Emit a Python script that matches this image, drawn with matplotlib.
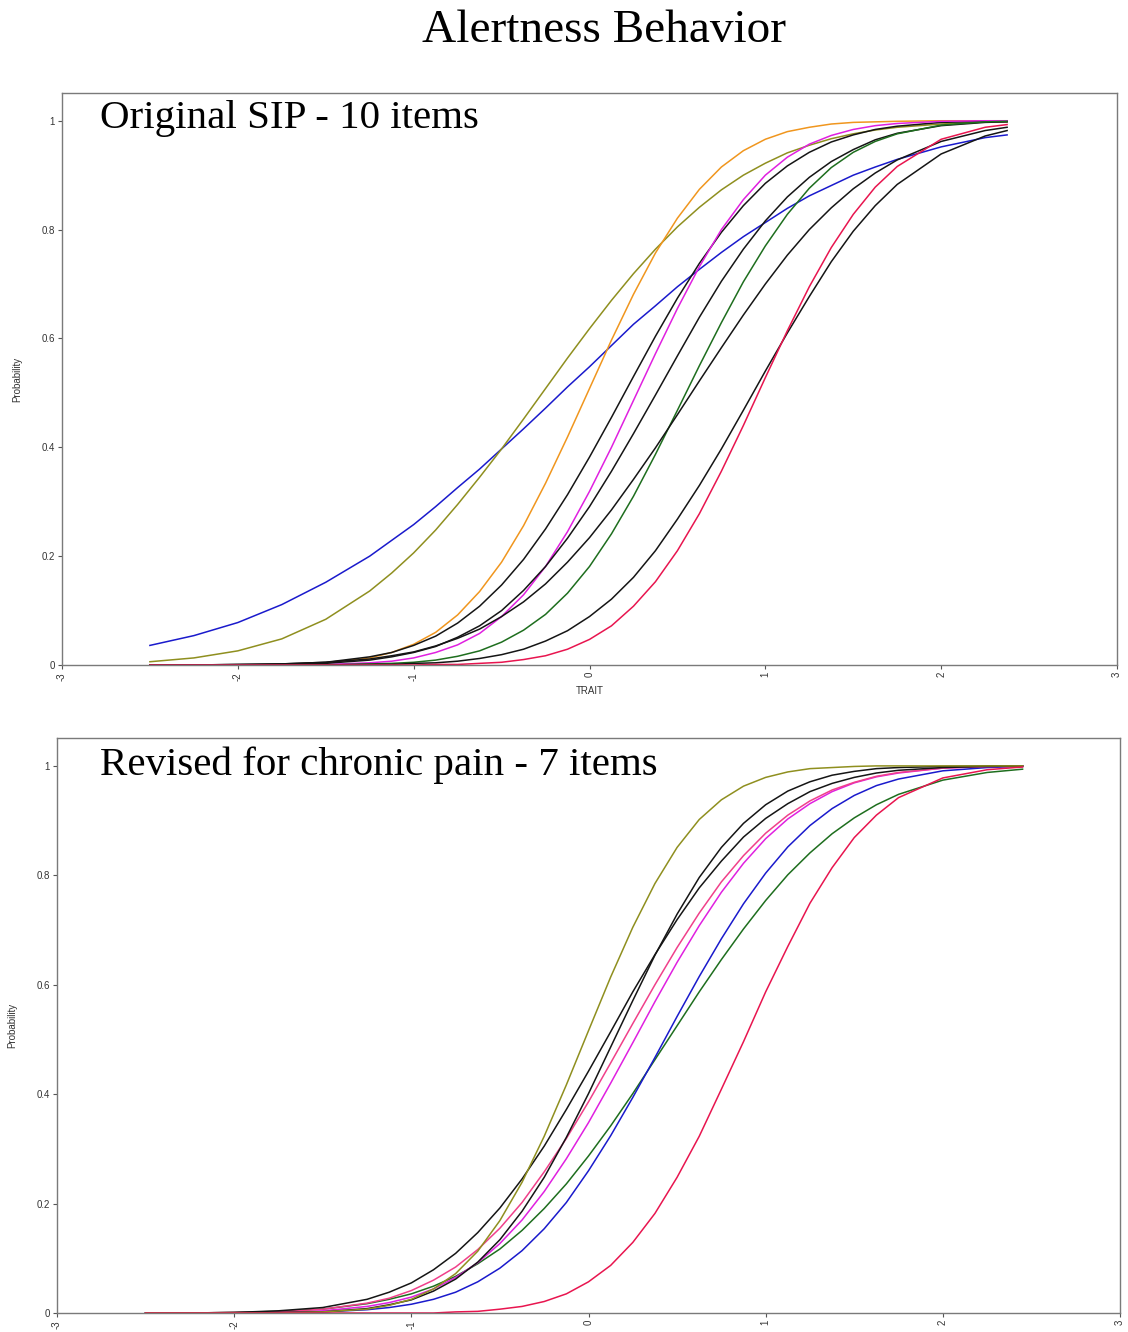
import matplotlib
matplotlib.use("Agg")
import matplotlib.pyplot as plt

# ---------------- data ----------------
title = "Alertness Behavior"
top_title = "Original SIP - 10 items"
bottom_title = "Revised for chronic pain - 7 items"
x_ticks = [-3, -2, -1, 0, 1, 2, 3]
y_ticks = [0, 0.2, 0.4, 0.6, 0.8, 1.0]
y_tick_labels = ["0", "0.2", "0.4", "0.6", "0.8", "1"]

# trait grid, original SIP panel
trait_top = [-2.5, -2.25, -2.0, -1.75, -1.5, -1.25, -1.125, -1.0, -0.875, -0.75, -0.625,
             -0.5, -0.375, -0.25, -0.125, 0.0, 0.125, 0.25, 0.375, 0.5, 0.625, 0.75,
             0.875, 1.0, 1.125, 1.25, 1.375, 1.5, 1.625, 1.75, 2.0, 2.25, 2.375]
top_blue = [.036, .054, .078, .111, .152, .200, .229, .258, .291, .326, .360,
            .397, .434, .472, .511, .548, .587, .626, .660, .695, .727, .758,
            .787, .813, .839, .862, .881, .900, .915, .929, .952, .969, .974]
top_olive = [.006, .013, .026, .048, .084, .136, .169, .206, .248, .295, .345,
             .397, .452, .508, .564, .618, .670, .719, .764, .805, .841, .873,
             .900, .922, .941, .955, .967, .976, .983, .988, .994, .998, .998]
top_orange = [.000, .000, .000, .001, .004, .013, .023, .038, .060, .092, .135,
              .189, .256, .334, .419, .508, .597, .681, .757, .821, .874, .915,
              .945, .966, .980, .988, .994, .997, .998, .999, 1.000, 1.000, 1.000]
top_magenta = [.000, .000, .000, .000, .001, .004, .007, .013, .023, .037, .058,
               .089, .129, .181, .245, .319, .400, .486, .572, .655, .732, .800,
               .855, .900, .933, .957, .973, .984, .991, .995, .999, 1.000, 1.000]
top_black1 = [.000, .000, .001, .002, .005, .015, .023, .036, .053, .077, .108,
              .147, .194, .250, .313, .382, .455, .530, .604, .674, .738, .795,
              .844, .885, .917, .942, .961, .974, .984, .990, .997, .999, .999]
top_black2 = [.000, .000, .000, .001, .003, .009, .015, .023, .034, .051, .072,
              .100, .137, .181, .233, .291, .356, .425, .496, .568, .639, .705,
              .764, .816, .860, .896, .925, .947, .965, .977, .991, .997, .998]
top_green = [.000, .000, .000, .000, .000, .002, .003, .005, .009, .016, .026,
             .042, .064, .093, .132, .181, .241, .310, .387, .468, .550, .629,
             .704, .770, .828, .876, .914, .942, .962, .976, .992, .998, .999]
top_black3 = [.000, .000, .001, .002, .005, .011, .017, .024, .035, .049, .066,
              .089, .116, .149, .189, .234, .285, .341, .399, .460, .522, .583,
              .643, .700, .753, .800, .840, .875, .904, .928, .962, .982, .988]
top_red = [.000, .000, .000, .000, .000, .000, .000, .000, .001, .001, .003,
           .005, .010, .017, .029, .047, .072, .108, .153, .210, .278, .356,
           .440, .528, .614, .695, .767, .828, .878, .916, .966, .988, .993]
top_black4 = [.000, .000, .000, .000, .000, .001, .001, .003, .004, .007, .012,
              .019, .029, .044, .063, .089, .121, .161, .210, .268, .330, .397,
              .468, .540, .610, .677, .741, .797, .844, .883, .939, .972, .982]

# trait grid, revised panel
trait_bottom = [-2.5, -2.25, -2.0, -1.75, -1.5, -1.25, -1.125, -1.0, -0.875, -0.75, -0.625,
                -0.5, -0.375, -0.25, -0.125, 0.0, 0.125, 0.25, 0.375, 0.5, 0.625, 0.75,
                0.875, 1.0, 1.125, 1.25, 1.375, 1.5, 1.625, 1.75, 2.0, 2.25, 2.45]
bot_olive = [.000, .000, .000, .000, .002, .007, .014, .025, .044, .072, .113,
             .169, .239, .323, .417, .516, .614, .705, .785, .851, .902, .938,
             .963, .979, .989, .995, .997, .999, 1.000, 1.000, 1.000, 1.000, 1.000]
bot_blackA = [.000, .000, .001, .004, .010, .025, .038, .055, .079, .109, .147,
              .192, .245, .305, .372, .442, .514, .587, .655, .719, .777, .826,
              .870, .904, .931, .953, .968, .979, .987, .992, .997, .999, 1.000]
bot_blackB = [.000, .000, .000, .001, .002, .008, .015, .024, .040, .062, .093,
              .134, .186, .248, .321, .401, .486, .571, .654, .729, .796, .851,
              .895, .929, .954, .971, .983, .990, .995, .997, .999, 1.000, 1.000]
bot_pink = [.000, .000, .001, .002, .007, .018, .027, .041, .060, .084, .116,
            .155, .202, .258, .319, .386, .457, .529, .600, .668, .731, .788,
            .836, .877, .910, .936, .956, .970, .981, .988, .996, .999, .999]
bot_magenta = [.000, .000, .000, .001, .004, .012, .019, .029, .044, .065, .092,
               .127, .170, .222, .282, .348, .420, .494, .569, .641, .708, .769,
               .822, .867, .903, .931, .953, .969, .980, .987, .996, .999, 1.000]
bot_blue = [.000, .000, .000, .001, .002, .006, .010, .016, .025, .038, .057,
            .082, .114, .154, .202, .260, .324, .394, .467, .542, .615, .684,
            .748, .804, .852, .891, .922, .946, .964, .976, .991, .997, .999]
bot_green = [.000, .000, .001, .003, .007, .017, .025, .035, .049, .067, .090,
             .117, .151, .191, .236, .287, .342, .401, .463, .525, .587, .646,
             .702, .754, .801, .841, .876, .905, .929, .948, .974, .988, .994]
bot_red = [.000, .000, .000, .000, .000, .000, .000, .000, .000, .002, .003,
           .007, .012, .021, .035, .057, .087, .129, .182, .248, .323, .409,
           .496, .587, .670, .749, .814, .869, .910, .942, .978, .993, .998]

C_BLUE = "#1a1acc"
C_OLIVE = "#8f8f1f"
C_ORANGE = "#f0961e"
C_MAGENTA = "#e020e0"
C_RED = "#e8154f"
C_PINK = "#f0408a"
C_GREEN = "#1e6e1e"
C_BLACK = "#151515"

top_series = [
    (top_blue, C_BLUE), (top_olive, C_OLIVE), (top_orange, C_ORANGE),
    (top_black1, C_BLACK), (top_magenta, C_MAGENTA), (top_black2, C_BLACK),
    (top_green, C_GREEN), (top_black3, C_BLACK), (top_black4, C_BLACK), (top_red, C_RED),
]
bottom_series = [
    (bot_green, C_GREEN), (bot_blue, C_BLUE), (bot_magenta, C_MAGENTA), (bot_pink, C_PINK),
    (bot_blackA, C_BLACK), (bot_blackB, C_BLACK), (bot_olive, C_OLIVE), (bot_red, C_RED),
]

# ---------------- figure ----------------
W, H = 1128, 1332
fig = plt.figure(figsize=(W / 100, H / 100), dpi=100)
fig.patch.set_facecolor("white")

SERIF = ["Liberation Serif", "DejaVu Serif"]
SANS = ["Liberation Sans", "DejaVu Sans"]

def px_axes(left, top, right, bottom):
    return fig.add_axes([left / W, 1 - bottom / H, (right - left) / W, (bottom - top) / H])

def style(ax):
    ax.set_xlim(-3, 3)
    ax.set_ylim(0, 1.051)
    ax.set_xticks(x_ticks)
    ax.set_xticklabels([str(v) for v in x_ticks], rotation=90, fontsize=7,
                       family=SANS, color="#333333")
    ax.set_yticks(y_ticks)
    ax.set_yticklabels(y_tick_labels, fontsize=7, family=SANS, color="#333333")
    ax.tick_params(direction="out", length=3, width=0.8, color="#555555", pad=2)
    for s in ax.spines.values():
        s.set_color("#7a7a7a")
        s.set_linewidth(1.0)
    ax.set_ylabel("Probability", fontsize=7, family=SANS, color="#333333", labelpad=14)

ax1 = px_axes(62, 93, 1117, 665)
style(ax1)
for vals, col in top_series:
    ax1.plot(trait_top, vals, color=col, lw=1.1, solid_joinstyle="round")
ax1.set_xlabel("TRAIT", fontsize=7, family=SANS, color="#333333", labelpad=4)
ax1.text(0.036, 0.956, top_title, transform=ax1.transAxes, ha="left", va="center",
         fontsize=29.5, family=SERIF, color="black")

ax2 = px_axes(57, 738, 1120, 1313)
style(ax2)
for vals, col in bottom_series:
    ax2.plot(trait_bottom, vals, color=col, lw=1.1, solid_joinstyle="round")
ax2.text(0.040, 0.953, bottom_title, transform=ax2.transAxes, ha="left", va="center",
         fontsize=29.5, family=SERIF, color="black")

fig.text(604 / W, 1 - 31 / H, title, ha="center", va="center", fontsize=34,
         family=SERIF, color="black")

fig.savefig("out.png", dpi=100, facecolor="white")
